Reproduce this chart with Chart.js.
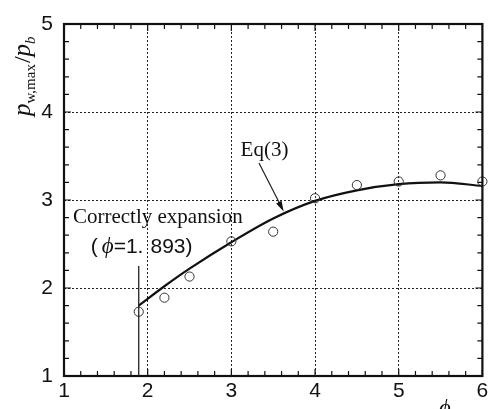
<!DOCTYPE html>
<html>
<head>
<meta charset="utf-8">
<script src="https://cdn.jsdelivr.net/npm/chart.js@4/dist/chart.umd.min.js"></script>
<style>
  html, body { margin: 0; padding: 0; background: #fff; }
  #wrap { position: relative; width: 488px; height: 409px; }
</style>
</head>
<body>
<div id="wrap"><canvas id="chart"></canvas></div>
<script>
// measured wall pressure peaks vs. pressure ratio phi
const PHI = [1.893, 2.2, 2.5, 3, 3.5, 4, 4.5, 5, 5.5, 6];
const PRESSURE_RATIO = [1.73, 1.89, 2.13, 2.53, 2.64, 3.02, 3.17, 3.21, 3.28, 3.21];

// Eq(3) prediction
const EQ3_PHI = [1.893, 2.2, 2.5, 3, 3.5, 4, 4.5, 5, 5.5, 6];
const EQ3_RATIO = [1.80, 2.02, 2.22, 2.52, 2.79, 2.99, 3.11, 3.18, 3.20, 3.16];

// correct-expansion marker
const PHI_C = 1.893;
const PHI_C_TOP = 2.25;

const X_TICKS = [1, 2, 3, 4, 5, 6];
const Y_TICKS = [1, 2, 3, 4, 5];

const SERIF = "'Liberation Serif', 'Times New Roman', serif";
const NARROW = "'Liberation Sans Narrow', 'Liberation Sans', Arial, sans-serif";

const toXY = (xs, ys) => xs.map((x, i) => ({ x, y: ys[i] }));

// inward tick marks on all four sides + heavy frame
const frame = {
  id: 'frame',
  afterDatasetsDraw(chart) {
    const { ctx, chartArea: a, scales: { x, y } } = chart;
    ctx.save();
    ctx.strokeStyle = '#111';
    ctx.lineWidth = 1.2;
    ctx.beginPath();
    const xMin = X_TICKS[0], xMax = X_TICKS[X_TICKS.length - 1];
    const nx = Math.round((xMax - xMin) / 0.2);
    for (let i = 0; i <= nx; i++) {
      const px = x.getPixelForValue(xMin + i * 0.2);
      const len = i % 5 === 0 ? 7 : 5;
      ctx.moveTo(px, a.bottom); ctx.lineTo(px, a.bottom - len);
      ctx.moveTo(px, a.top); ctx.lineTo(px, a.top + len);
    }
    const yMin = Y_TICKS[0], yMax = Y_TICKS[Y_TICKS.length - 1];
    const ny = Math.round((yMax - yMin) / 0.2);
    for (let i = 0; i <= ny; i++) {
      const py = y.getPixelForValue(yMin + i * 0.2);
      const len = i % 5 === 0 ? 7 : 5;
      ctx.moveTo(a.left, py); ctx.lineTo(a.left + len, py);
      ctx.moveTo(a.right, py); ctx.lineTo(a.right - len, py);
    }
    ctx.stroke();
    ctx.lineWidth = 2.2;
    ctx.strokeRect(a.left, a.top, a.right - a.left, a.bottom - a.top);
    ctx.restore();
  }
};

// labels, arrow and the phi_c line
const notes = {
  id: 'notes',
  afterDraw(chart) {
    const { ctx, scales: { x, y } } = chart;
    ctx.save();
    ctx.fillStyle = '#111';
    ctx.strokeStyle = '#222';

    // vertical line at phi = 1.893
    ctx.lineWidth = 1.3;
    ctx.beginPath();
    ctx.moveTo(x.getPixelForValue(PHI_C), y.getPixelForValue(Y_TICKS[0]));
    ctx.lineTo(x.getPixelForValue(PHI_C), y.getPixelForValue(PHI_C_TOP));
    ctx.stroke();

    ctx.textBaseline = 'alphabetic';
    ctx.textAlign = 'left';
    ctx.font = '21px ' + SERIF;
    ctx.fillText('Correctly expansion', x.getPixelForValue(1.107), y.getPixelForValue(2.74));

    // "( ϕ=1. 893)" built from pieces so the phi can be set larger
    let tx = x.getPixelForValue(1.32);
    const ty = y.getPixelForValue(2.40);
    const put = (txt, font, gap) => {
      ctx.font = font;
      ctx.fillText(txt, tx, ty);
      tx += ctx.measureText(txt).width + (gap || 0);
    };
    put('(', '21px ' + NARROW, 4);
    put('ϕ', 'italic 23px ' + SERIF, 0);
    put('=1.', '21px ' + NARROW, 7);
    put('893)', '21px ' + NARROW, 0);

    ctx.font = '21px ' + SERIF;
    ctx.fillText('Eq(3)', x.getPixelForValue(3.11), y.getPixelForValue(3.5));

    // arrow to the curve
    const x0 = x.getPixelForValue(3.33), y0 = y.getPixelForValue(3.42);
    const x1 = x.getPixelForValue(3.625), y1 = y.getPixelForValue(2.87);
    const ang = Math.atan2(y1 - y0, x1 - x0);
    ctx.lineWidth = 1.2;
    ctx.beginPath();
    ctx.moveTo(x0, y0);
    ctx.lineTo(x1 - 6 * Math.cos(ang), y1 - 6 * Math.sin(ang));
    ctx.stroke();
    ctx.beginPath();
    ctx.moveTo(x1, y1);
    ctx.lineTo(x1 - 11 * Math.cos(ang - 0.28), y1 - 11 * Math.sin(ang - 0.28));
    ctx.lineTo(x1 - 11 * Math.cos(ang + 0.28), y1 - 11 * Math.sin(ang + 0.28));
    ctx.closePath();
    ctx.fill();

    // y title: p_{w,max}/p_b
    ctx.save();
    ctx.translate(30, 116);
    ctx.rotate(-Math.PI / 2);
    let cx = 0;
    const part = (txt, font, dy) => {
      ctx.font = font;
      ctx.fillText(txt, cx, dy);
      cx += ctx.measureText(txt).width;
    };
    part('p', 'italic 25px ' + SERIF, 0);
    part('w,max', '15px ' + SERIF, 5);
    cx += 1;
    part('/', '24px ' + SERIF, 0);
    part('p', 'italic 25px ' + SERIF, 0);
    part('b', 'italic 15px ' + SERIF, 5);
    ctx.restore();

    // x title
    ctx.font = 'italic 22px ' + SERIF;
    ctx.textAlign = 'center';
    ctx.fillText('ϕ', 445, 414);
    ctx.restore();
  }
};

new Chart(document.getElementById('chart'), {
  type: 'scatter',
  data: {
    datasets: [
      {
        label: 'Eq(3)',
        data: toXY(EQ3_PHI, EQ3_RATIO),
        showLine: true,
        borderColor: '#111',
        borderWidth: 2.2,
        pointRadius: 0,
        cubicInterpolationMode: 'monotone',
        order: 1
      },
      {
        label: 'Experiment',
        data: toXY(PHI, PRESSURE_RATIO),
        showLine: false,
        pointStyle: 'circle',
        pointRadius: 4.6,
        pointBorderWidth: 1,
        pointBorderColor: '#333',
        pointBackgroundColor: 'rgba(255,255,255,0)',
        clip: false,
        order: 0
      }
    ]
  },
  options: {
    responsive: true,
    maintainAspectRatio: false,
    animation: false,
    layout: { padding: { top: 24, right: 3, left: 0, bottom: 0 } },
    plugins: { legend: { display: false }, tooltip: { enabled: false } },
    scales: {
      x: {
        type: 'linear',
        min: X_TICKS[0],
        max: X_TICKS[X_TICKS.length - 1],
        afterBuildTicks: s => { s.ticks = X_TICKS.map(v => ({ value: v })); },
        afterFit: s => { s.height = 33; s.paddingLeft = 0; s.paddingRight = 0; },
        ticks: { color: '#111', padding: 3, maxRotation: 0, font: { size: 21, family: NARROW } },
        grid: { color: '#222', lineWidth: 1, drawTicks: false },
        border: { display: false, dash: [2, 2] }
      },
      y: {
        type: 'linear',
        min: Y_TICKS[0],
        max: Y_TICKS[Y_TICKS.length - 1],
        afterBuildTicks: s => { s.ticks = Y_TICKS.map(v => ({ value: v })); },
        afterFit: s => { s.width = 64; s.paddingTop = 0; s.paddingBottom = 0; },
        ticks: { color: '#111', padding: 11, font: { size: 21, family: NARROW } },
        grid: { color: '#222', lineWidth: 1, drawTicks: false },
        border: { display: false, dash: [2, 2] }
      }
    }
  },
  plugins: [frame, notes]
});
</script>
</body>
</html>
